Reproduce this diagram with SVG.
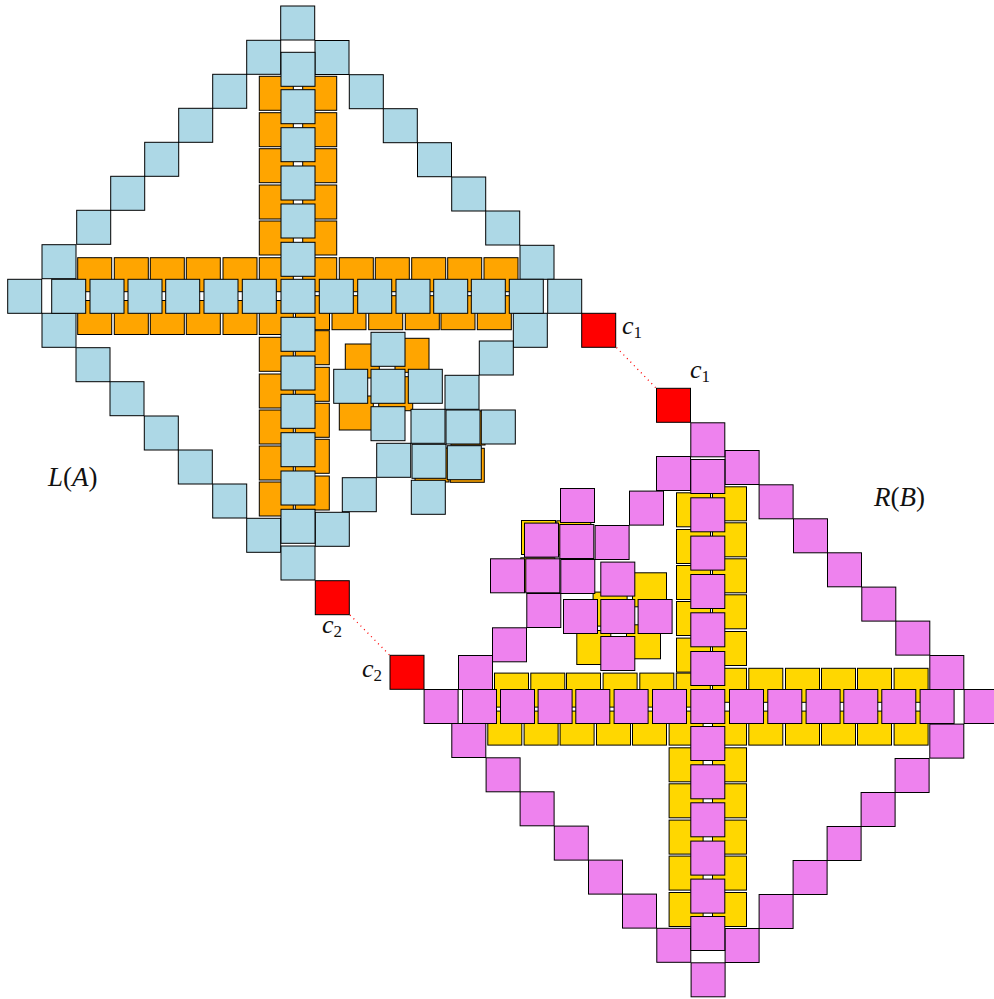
<svg xmlns="http://www.w3.org/2000/svg" xmlns:xlink="http://www.w3.org/1999/xlink" width="994" height="999" viewBox="0 0 994 999">
<style>
.lbl{font-family:"Liberation Serif","DejaVu Serif",serif;font-size:27px;fill:#111}
.it{font-style:italic}
.cl{font-size:26px}
.sub{font-size:17px;font-style:normal}
.red{fill:#FF0000;stroke:#000;stroke-width:1}
.dot{stroke:#FF0000;stroke-width:1.3;stroke-dasharray:1 4;fill:none}
</style>
<defs>
<g id="secA" stroke="#000" stroke-width="1">
<rect x="259.3" y="76.3" width="34" height="34"/><rect x="302.7" y="76.3" width="34" height="34"/>
<rect x="259.3" y="112.7" width="34" height="34"/><rect x="302.7" y="112.7" width="34" height="34"/>
<rect x="259.3" y="148.7" width="34" height="34"/><rect x="302.7" y="148.7" width="34" height="34"/>
<rect x="259.3" y="185" width="34" height="34"/><rect x="302.7" y="185" width="34" height="34"/>
<rect x="259.3" y="221" width="34" height="34"/><rect x="302.7" y="221" width="34" height="34"/>
<rect x="259.3" y="257.7" width="34" height="34"/><rect x="302.7" y="257.7" width="34" height="34"/>
<rect x="259.3" y="300.5" width="34" height="34"/><rect x="295.5" y="295.7" width="34" height="34"/>
<rect x="77.7" y="257.7" width="34" height="34"/><rect x="114.3" y="257.7" width="34" height="34"/>
<rect x="150.3" y="257.7" width="34" height="34"/><rect x="186.3" y="257.7" width="34" height="34"/>
<rect x="223" y="257.7" width="34" height="34"/>
<rect x="77.7" y="300.5" width="34" height="34"/><rect x="114.3" y="300.5" width="34" height="34"/>
<rect x="150.3" y="300.5" width="34" height="34"/><rect x="186.3" y="300.5" width="34" height="34"/>
<rect x="223" y="300.5" width="34" height="34"/>
<rect x="339.3" y="257.7" width="34" height="34"/><rect x="375.3" y="257.7" width="34" height="34"/>
<rect x="411.7" y="257.7" width="34" height="34"/><rect x="447.7" y="257.7" width="34" height="34"/>
<rect x="484" y="257.7" width="34" height="34"/>
<rect x="332" y="295.7" width="34" height="34"/><rect x="368.7" y="295.7" width="34" height="34"/>
<rect x="405.3" y="295.7" width="34" height="34"/><rect x="441" y="295.7" width="34" height="34"/>
<rect x="477.3" y="295.7" width="34" height="34"/>
<rect x="259.3" y="337.3" width="34" height="34"/><rect x="259.3" y="374" width="34" height="34"/>
<rect x="259.3" y="410" width="34" height="34"/><rect x="259.3" y="446" width="34" height="34"/>
<rect x="259.3" y="482" width="34" height="34"/>
<rect x="295.3" y="330.7" width="34" height="34"/><rect x="295.3" y="367.3" width="34" height="34"/>
<rect x="295.3" y="403.3" width="34" height="34"/><rect x="295.3" y="439.3" width="34" height="34"/>
<rect x="295.3" y="476" width="34" height="34"/>
<rect x="345.3" y="344" width="34" height="34"/><rect x="395" y="338.3" width="34" height="34"/>
<rect x="339.3" y="396" width="34" height="34"/><rect x="378.7" y="376.7" width="34" height="34"/>
<rect x="451" y="411" width="34" height="34"/><rect x="450.3" y="448.3" width="34" height="34"/>
<rect x="415" y="448" width="34" height="34"/>
</g>
<g id="priA" stroke="#000" stroke-width="1">
<rect x="280.7" y="6" width="34" height="34"/>
<rect x="246.7" y="40.3" width="34" height="34"/><rect x="212.7" y="74.3" width="34" height="34"/>
<rect x="178.7" y="108.3" width="34" height="34"/><rect x="144.7" y="142.3" width="34" height="34"/>
<rect x="110.7" y="176.3" width="34" height="34"/><rect x="76.7" y="210.3" width="34" height="34"/>
<rect x="42" y="244.7" width="34" height="34"/>
<rect x="7.7" y="279.3" width="34" height="34"/>
<rect x="315" y="40.5" width="34" height="34"/><rect x="349.3" y="74.7" width="34" height="34"/>
<rect x="383.3" y="108.7" width="34" height="34"/><rect x="417.5" y="142.7" width="34" height="34"/>
<rect x="451.7" y="177" width="34" height="34"/><rect x="485.7" y="211" width="34" height="34"/>
<rect x="520" y="245.3" width="34" height="34"/>
<rect x="42" y="313.3" width="34" height="34"/><rect x="76" y="347.7" width="34" height="34"/>
<rect x="110" y="381.7" width="34" height="34"/><rect x="144.3" y="416" width="34" height="34"/>
<rect x="178.3" y="450" width="34" height="34"/><rect x="212.7" y="484" width="34" height="34"/>
<rect x="246.7" y="518.3" width="34" height="34"/>
<rect x="281" y="546" width="34" height="34"/>
<rect x="513.3" y="313.3" width="34" height="34"/><rect x="479.3" y="341" width="34" height="34"/>
<rect x="445" y="375.3" width="34" height="34"/><rect x="411" y="409.3" width="34" height="34"/>
<rect x="376.7" y="443.3" width="34" height="34"/><rect x="342.3" y="477.7" width="34" height="34"/>
<rect x="315.3" y="512.3" width="34" height="34"/>
<rect x="51.7" y="279.3" width="34" height="34"/><rect x="90" y="279.3" width="34" height="34"/>
<rect x="128" y="279.3" width="34" height="34"/><rect x="165.7" y="279.3" width="34" height="34"/>
<rect x="204" y="279.3" width="34" height="34"/><rect x="242.3" y="279.3" width="34" height="34"/>
<rect x="281" y="279.3" width="34" height="34"/><rect x="319.3" y="279.3" width="34" height="34"/>
<rect x="357.7" y="279.3" width="34" height="34"/><rect x="396" y="279.3" width="34" height="34"/>
<rect x="433.7" y="279.3" width="34" height="34"/><rect x="471.3" y="279.3" width="34" height="34"/>
<rect x="509.3" y="279.3" width="34" height="34"/><rect x="547.7" y="279.3" width="34" height="34"/>
<rect x="281" y="52.3" width="34" height="34"/><rect x="281" y="89.7" width="34" height="34"/>
<rect x="281" y="127.7" width="34" height="34"/><rect x="281" y="166" width="34" height="34"/>
<rect x="281" y="204" width="34" height="34"/><rect x="281" y="242.3" width="34" height="34"/>
<rect x="281" y="317.3" width="34" height="34"/><rect x="281" y="356" width="34" height="34"/>
<rect x="281" y="394.3" width="34" height="34"/><rect x="281" y="432.7" width="34" height="34"/>
<rect x="281" y="471" width="34" height="34"/><rect x="281" y="509.3" width="34" height="34"/>
<rect x="371" y="332.3" width="34" height="34"/><rect x="333.7" y="369.3" width="34" height="34"/>
<rect x="371" y="369.3" width="34" height="34"/><rect x="408.3" y="369.3" width="34" height="34"/>
<rect x="371" y="406.7" width="34" height="34"/>
<rect x="446" y="410" width="34" height="34"/><rect x="481.3" y="410" width="34" height="34"/>
<rect x="412" y="444.3" width="34" height="34"/><rect x="447.3" y="445.7" width="34" height="34"/>
<rect x="411.3" y="480.3" width="34" height="34"/>
</g>
</defs>
<g id="LA">
<use xlink:href="#secA" href="#secA" fill="#FFA500"/>
<use xlink:href="#priA" href="#priA" fill="#ADD8E6"/>
</g>
<g id="RB" transform="rotate(180 502.9 501.4)">
<use xlink:href="#secA" href="#secA" fill="#FFD700"/>
<use xlink:href="#priA" href="#priA" fill="#EE82EE"/>
</g>
<g id="connectors">
<line class="dot" x1="616.5" y1="347.5" x2="656" y2="388"/>
<line class="dot" x1="350" y1="615" x2="389.5" y2="655"/>
</g>
<g id="c1-left"><rect class="red" x="581.7" y="313.3" width="34" height="34"/></g>
<g id="c1-right"><rect class="red" x="656.5" y="388.3" width="34" height="34"/></g>
<g id="c2-left"><rect class="red" x="315.3" y="580.7" width="34" height="34"/></g>
<g id="c2-right"><rect class="red" x="390" y="655.3" width="34" height="34"/></g>
<g id="labels">
<text class="lbl it cl" x="622" y="334">c<tspan class="sub" dy="4">1</tspan></text>
<text class="lbl it cl" x="690" y="378">c<tspan class="sub" dy="4">1</tspan></text>
<text class="lbl it cl" x="322" y="633">c<tspan class="sub" dy="4">2</tspan></text>
<text class="lbl it cl" x="362" y="677">c<tspan class="sub" dy="4">2</tspan></text>
<text class="lbl" x="48" y="486"><tspan class="it">L</tspan>(<tspan class="it">A</tspan>)</text>
<text class="lbl" x="874" y="506"><tspan class="it">R</tspan>(<tspan class="it">B</tspan>)</text>
</g>
</svg>
